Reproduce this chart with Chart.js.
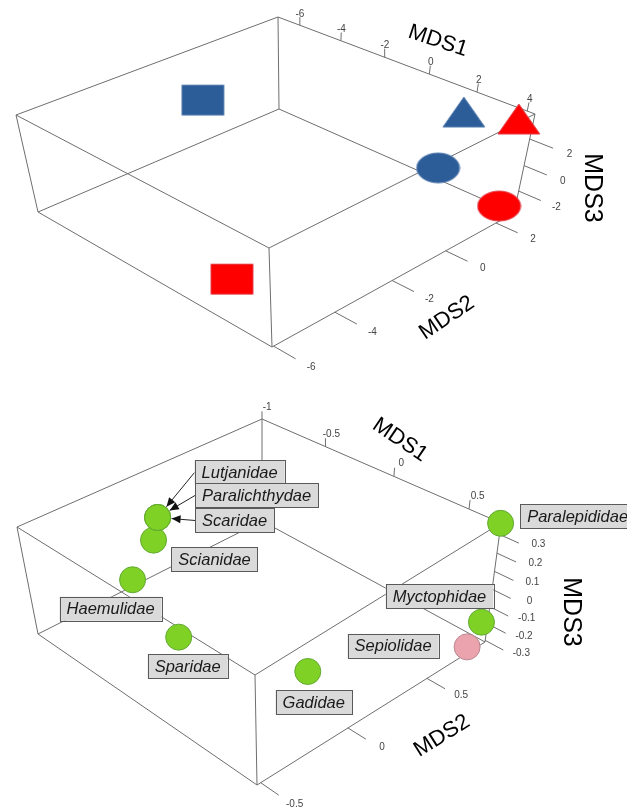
<!DOCTYPE html>
<html>
<head>
<meta charset="utf-8">
<script src="https://cdn.jsdelivr.net/npm/chart.js@4.4.0/dist/chart.umd.min.js"></script>
<style>
  html, body { margin: 0; padding: 0; background: #fff; }
  canvas { display: block; }
</style>
</head>
<body>
<canvas id="mds" width="627" height="812"></canvas>
<script>
// upper panel: six group centroids (two colours x three symbols)
const topGroups = ['blue square', 'blue triangle', 'blue circle', 'red square', 'red triangle', 'red circle'];
const topMds1 = [-6.79, 1.86, 2.44, 1.14, 3.83, 4.25];
const topMds2 = [-0.36, 2.48, 1.14, -5.0, 2.66, 2.05];
const topMds3 = [0.0, 2.5, 0.0, -3.0, 3.2, -2.5];

// lower panel: families
const families = ['Scianidae', 'Lutjanidae', 'Paralichthydae', 'Scaridae', 'Haemulidae',
  'Sparidae', 'Gadidae', 'Myctophidae', 'Sepiolidae', 'Paralepididae'];
const famMds1 = [-0.83, -0.93, -0.93, -0.93, -0.67, -0.22, 0.39, 0.67, 0.69, 0.69];
const famMds2 = [0.08, 0.18, 0.18, 0.18, -0.16, -0.23, 0.03, 0.89, 0.78, 0.91];
const famMds3 = [0.05, 0.1, 0.1, 0.1, 0.0, -0.1, -0.15, -0.2, -0.28, 0.35];

const topTicks1 = [-6, -4, -2, 0, 2, 4];
const topTicks2 = [-6, -4, -2, 0, 2];
const topTicks3 = [-2, 0, 2];
const lowTicks1 = [-1, -0.5, 0, 0.5];
const lowTicks2 = [-0.5, 0, 0.5];
const lowTicks3 = [-0.3, -0.2, -0.1, 0, 0.1, 0.2, 0.3];

// view of each box: data range per axis and where the box corners sit on the page
// (corner key = MDS1 MDS2 MDS3, 0 low end, 1 high end)
const panels = [
  {
    range: [[-7.1, 4.3], [-6.05, 2.75], [-3.8, 3.8]],
    frame: {
      '000': [38, 212], '100': [272, 347], '010': [279, 109], '110': [514, 213],
      '001': [16, 115], '101': [269, 248], '011': [278, 17], '111': [535, 114]
    },
    ticks: [topTicks1, topTicks2, topTicks3],
    tickLen: 0.08,
    // tick label shift from the axis, in box units
    labelOff: [[0, 0, 0.11], [0.135, 0, 0], [0.135, 0, 0]],
    titles: [['MDS1', 438, 41, 18, 22], ['MDS2', 447, 318, -34, 22], ['MDS3', 592, 188, 90, 25]]
  },
  {
    range: [[-1, 0.7], [-0.52, 0.9], [-0.31, 0.36]],
    frame: {
      '000': [38, 634], '100': [257, 785], '010': [262, 521], '110': [485, 642],
      '001': [17, 527], '101': [255, 675], '011': [262, 419], '111': [501, 523]
    },
    ticks: [lowTicks1, lowTicks2, lowTicks3],
    tickLen: 0.07,
    labelOff: [[0.025, 0, 0.125], [0.13, 0, 0.02], [0.135, 0, 0.053]],
    titles: [['MDS1', 400, 440, 34, 22], ['MDS2', 442, 736, -32, 22], ['MDS3', 571, 612, 90, 25]]
  }
];

// perspective camera fitted to the corners (3x4 matrix, last entry 1)
function fitCamera(frame) {
  const rows = [], rhs = [];
  for (const key in frame) {
    const u = +key[0], v = +key[1], w = +key[2];
    const [x, y] = frame[key];
    rows.push([u, v, w, 1, 0, 0, 0, 0, -x * u, -x * v, -x * w]); rhs.push(x);
    rows.push([0, 0, 0, 0, u, v, w, 1, -y * u, -y * v, -y * w]); rhs.push(y);
  }
  const n = 11, m = [];
  for (let i = 0; i < n; i++) {
    m.push(new Array(n + 1).fill(0));
    for (let k = 0; k < rows.length; k++) {
      for (let j = 0; j < n; j++) m[i][j] += rows[k][i] * rows[k][j];
      m[i][n] += rows[k][i] * rhs[k];
    }
  }
  for (let c = 0; c < n; c++) {
    let piv = c;
    for (let r = c + 1; r < n; r++) if (Math.abs(m[r][c]) > Math.abs(m[piv][c])) piv = r;
    [m[c], m[piv]] = [m[piv], m[c]];
    for (let r = 0; r < n; r++) {
      if (r === c) continue;
      const f = m[r][c] / m[c][c];
      for (let j = c; j <= n; j++) m[r][j] -= f * m[c][j];
    }
  }
  return m.map((row, i) => row[n] / row[i]);
}

function projUnit(p, u, v, w) {
  const d = p[8] * u + p[9] * v + p[10] * w + 1;
  return [(p[0] * u + p[1] * v + p[2] * w + p[3]) / d, (p[4] * u + p[5] * v + p[6] * w + p[7]) / d];
}

// camera, plus a small trilinear correction so the corners land exactly
panels.forEach(pn => {
  pn.cam = fitCamera(pn.frame);
  pn.resid = {};
  for (const k in pn.frame) {
    const q = projUnit(pn.cam, +k[0], +k[1], +k[2]);
    pn.resid[k] = [pn.frame[k][0] - q[0], pn.frame[k][1] - q[1]];
  }
});

function mapUnit(pn, u, v, w) {
  const q = projUnit(pn.cam, u, v, w);
  let dx = 0, dy = 0;
  for (const k in pn.resid) {
    const f = (k[0] === '1' ? u : 1 - u) * (k[1] === '1' ? v : 1 - v) * (k[2] === '1' ? w : 1 - w);
    dx += f * pn.resid[k][0]; dy += f * pn.resid[k][1];
  }
  return [q[0] + dx, q[1] + dy];
}

function unit(pn, axis, val) {
  const [a, b] = pn.range[axis];
  return (val - a) / (b - a);
}
function project(pn, m1, m2, m3) {
  return mapUnit(pn, unit(pn, 0, m1), unit(pn, 1, m2), unit(pn, 2, m3));
}

// unit-cube position of a tick on each axis (MDS1 on the top back edge,
// MDS2 on the bottom right edge, MDS3 on the right upright)
function tickUnit(pn, axis, val) {
  const t = unit(pn, axis, val);
  if (axis === 0) return [t, 1, 1];
  if (axis === 1) return [1, t, 0];
  return [1, 1, t];
}
const shift = (p, d) => [p[0] + d[0], p[1] + d[1], p[2] + d[2]];
const tickDir = axis => axis === 0 ? [0, 0, 1] : [1, 0, 0];

function segments(pairs) {
  const out = [];
  pairs.forEach(([a, b]) => out.push({ x: a[0], y: a[1] }, { x: b[0], y: b[1] }, { x: null, y: null }));
  return out;
}

const datasets = [];
panels.forEach(pn => {
  const edges = [];
  Object.keys(pn.frame).forEach(k => {
    for (let i = 0; i < 3; i++) {
      if (k[i] !== '0') continue;
      const k2 = k.slice(0, i) + '1' + k.slice(i + 1);
      edges.push([mapUnit(pn, +k[0], +k[1], +k[2]), mapUnit(pn, +k2[0], +k2[1], +k2[2])]);
    }
  });
  const marks = [];
  pn.ticks.forEach((list, axis) => list.forEach(t => {
    const base = tickUnit(pn, axis, t);
    const end = shift(base, tickDir(axis).map(c => c * pn.tickLen));
    marks.push([mapUnit(pn, ...base), mapUnit(pn, ...end)]);
  }));
  datasets.push({
    data: segments(edges.concat(marks)), showLine: true, pointRadius: 0,
    borderColor: '#6e6e6e', borderWidth: 1, order: 5
  });
});

function marker(kind, fill, edge, w, h) {
  const c = document.createElement('canvas');
  c.width = w + 2; c.height = h + 2;
  const g = c.getContext('2d');
  g.fillStyle = fill; g.strokeStyle = edge; g.lineWidth = 1;
  g.beginPath();
  if (kind === 'rect') g.rect(1.5, 1.5, w - 1, h - 1);
  else if (kind === 'triangle') { g.moveTo(w / 2 + 1, 1); g.lineTo(w + 1, h + 1); g.lineTo(1, h + 1); g.closePath(); }
  else g.ellipse(w / 2 + 1, h / 2 + 1, w / 2, h / 2, 0, 0, Math.PI * 2);
  g.fill(); g.stroke();
  return c;
}

const topLook = [
  ['rect', '#2c5d98', '#5d83b4', 43, 31], ['triangle', '#2c5d98', '#5d83b4', 42, 30], ['ellipse', '#2c5d98', '#5d83b4', 43, 30],
  ['rect', '#ff0000', '#e0404a', 43, 31], ['triangle', '#ff0000', '#e0404a', 42, 30], ['ellipse', '#ff0000', '#e0404a', 43, 30]
];
topGroups.forEach((g, i) => {
  const [x, y] = project(panels[0], topMds1[i], topMds2[i], topMds3[i]);
  datasets.push({
    label: g, data: [{ x, y }], pointStyle: marker(...topLook[i]), pointRadius: 16, order: 1
  });
});

datasets.push({
  label: 'families',
  data: families.map((f, i) => {
    const [x, y] = project(panels[1], famMds1[i], famMds2[i], famMds3[i]);
    return { x, y };
  }),
  pointStyle: 'circle', pointRadius: 13, borderWidth: 1,
  backgroundColor: families.map(f => f === 'Sepiolidae' ? '#eba3ad' : '#7fd126'),
  borderColor: families.map(f => f === 'Sepiolidae' ? '#b98791' : '#62a832'),
  order: 1
});

// label boxes: offset of box centre from its point, and whether an arrow joins them
const famLabels = [
  [61, 19, false], [82, -45, true], [99, -22, true], [77, 3, true], [-22, 29, false],
  [9, 29, false], [6, 31, false], [-42, -26, false], [-74, -1, false], [77, -7, false]
];

const annotate = {
  id: 'annotate',
  afterDatasetsDraw(chart) {
    const ctx = chart.ctx, sx = chart.scales.x, sy = chart.scales.y;
    const px = p => [sx.getPixelForValue(p[0]), sy.getPixelForValue(p[1])];
    ctx.save();
    ctx.textAlign = 'center'; ctx.textBaseline = 'middle';
    panels.forEach(pn => {
      ctx.font = '10px "Liberation Sans", Arial, sans-serif';
      ctx.fillStyle = '#444';
      pn.ticks.forEach((list, axis) => list.forEach(t => {
        const [x, y] = px(mapUnit(pn, ...shift(tickUnit(pn, axis, t), pn.labelOff[axis])));
        ctx.fillText(String(t), x, y);
      }));
      ctx.fillStyle = '#000';
      pn.titles.forEach(([txt, x, y, rot, size]) => {
        ctx.font = size + 'px "Liberation Sans", Arial, sans-serif';
        ctx.save(); ctx.translate(x, y); ctx.rotate(rot * Math.PI / 180);
        ctx.fillText(txt, 0, 0); ctx.restore();
      });
    });

    ctx.font = 'italic 16.5px "Liberation Sans", Arial, sans-serif';
    families.forEach((f, i) => {
      const [cx, cy] = px(project(panels[1], famMds1[i], famMds2[i], famMds3[i]));
      const [dx, dy, arrow] = famLabels[i];
      const w = ctx.measureText(f).width + 14, h = 24;
      const bx = cx + dx - w / 2, by = cy + dy - h / 2;
      if (arrow) {
        const sx0 = bx, sy0 = by + h / 2;
        const len = Math.hypot(sx0 - cx, sy0 - cy);
        const ux = (sx0 - cx) / len, uy = (sy0 - cy) / len;
        const ex = cx + ux * 14, ey = cy + uy * 14;
        ctx.strokeStyle = '#222'; ctx.fillStyle = '#111'; ctx.lineWidth = 1;
        ctx.beginPath(); ctx.moveTo(sx0, sy0); ctx.lineTo(ex, ey); ctx.stroke();
        ctx.beginPath();
        ctx.moveTo(ex, ey);
        ctx.lineTo(ex + ux * 9 - uy * 4, ey + uy * 9 + ux * 4);
        ctx.lineTo(ex + ux * 9 + uy * 4, ey + uy * 9 - ux * 4);
        ctx.closePath(); ctx.fill();
      }
      ctx.fillStyle = '#dadada'; ctx.strokeStyle = '#5a5a5a'; ctx.lineWidth = 1;
      ctx.fillRect(bx, by, w, h);
      ctx.strokeRect(Math.round(bx) + 0.5, Math.round(by) + 0.5, Math.round(w), h);
      ctx.fillStyle = '#1a1a1a';
      ctx.fillText(f, cx + dx, cy + dy + 1);
    });
    ctx.restore();
  }
};

new Chart(document.getElementById('mds'), {
  type: 'scatter',
  data: { datasets },
  options: {
    responsive: false, animation: false, devicePixelRatio: 1,
    layout: { padding: 0, autoPadding: false },
    clip: false,
    events: [],
    scales: {
      x: { type: 'linear', min: 0, max: 627, display: false },
      y: { type: 'linear', min: 0, max: 812, reverse: true, display: false }
    },
    plugins: { legend: { display: false }, tooltip: { enabled: false } }
  },
  plugins: [annotate]
});
</script>
</body>
</html>
